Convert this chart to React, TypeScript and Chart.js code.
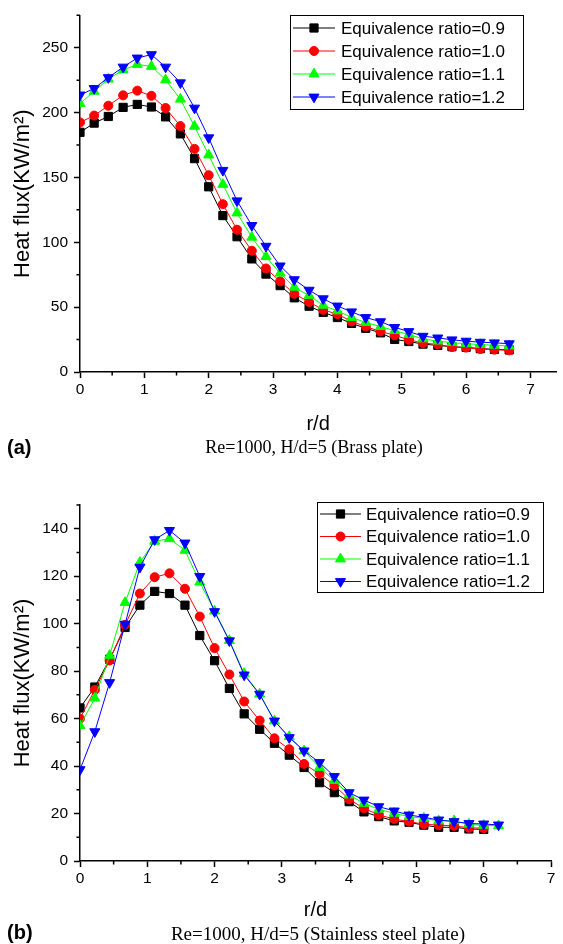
import React, { useEffect, useRef } from 'react';
import { Chart, registerables } from 'chart.js';

Chart.register(...registerables);

// ---------------- data ----------------
const seriesLabels = ['Equivalence ratio=0.9', 'Equivalence ratio=1.0', 'Equivalence ratio=1.1', 'Equivalence ratio=1.2'];
const seriesColors = ['#000000', '#ff0000', '#00ff00', '#0000ff'];
const seriesMarkers = ['rect', 'circle', 'triangle', 'triangle'];
const markerRotations = [0, 0, 0, 180];
const markerRadii = [5.8, 4.5, 5.8, 5.8];

const rdA = [0, 0.22, 0.44, 0.67, 0.89, 1.11, 1.33, 1.56, 1.78, 2.0, 2.22, 2.44, 2.67, 2.89, 3.11, 3.33, 3.56, 3.78, 4.0, 4.22, 4.44, 4.67, 4.89, 5.11, 5.33, 5.56, 5.78, 6.0, 6.22, 6.44, 6.67];
const brass09 = [184.8, 191.9, 197.0, 204.0, 206.3, 204.3, 196.7, 183.6, 164.5, 142.8, 120.6, 104.3, 87.2, 75.5, 66.6, 57.2, 50.7, 46.0, 42.0, 37.5, 33.7, 30.2, 25.1, 23.5, 21.5, 20.5, 19.5, 19.0, 18.0, 17.5, 17.0];
const brass10 = [192.4, 197.7, 205.3, 213.3, 216.9, 212.9, 203.5, 189.6, 172.0, 151.7, 129.4, 109.7, 93.5, 79.8, 69.9, 60.3, 54.0, 47.9, 44.6, 39.0, 35.0, 31.2, 28.3, 24.8, 22.3, 21.3, 19.2, 18.8, 17.7, 17.2, 16.7];
const brass11 = [207.0, 216.4, 225.8, 232.8, 237.1, 235.6, 225.2, 210.3, 189.4, 167.3, 144.6, 122.6, 103.9, 88.9, 76.2, 65.3, 59.0, 51.4, 47.1, 42.0, 38.2, 35.0, 31.9, 28.9, 25.5, 23.8, 22.6, 21.8, 21.2, 20.6, 20.0];
const brass12 = [213.6, 218.6, 227.0, 235.1, 242.1, 244.7, 235.1, 223.0, 203.5, 180.6, 155.5, 132.0, 113.0, 97.0, 81.8, 71.2, 63.1, 56.5, 50.9, 46.4, 42.0, 38.8, 34.4, 31.2, 27.6, 26.3, 24.8, 23.8, 23.0, 22.5, 21.8];

const rdB = [0, 0.22, 0.44, 0.67, 0.89, 1.11, 1.33, 1.56, 1.78, 2.0, 2.22, 2.44, 2.67, 2.89, 3.11, 3.33, 3.56, 3.78, 4.0, 4.22, 4.44, 4.67, 4.89, 5.11, 5.33, 5.56, 5.78, 6.0, 6.22];
const steel09 = [64.5, 73.3, 85.0, 98.4, 107.8, 113.6, 112.7, 107.8, 95.0, 84.4, 72.7, 62.0, 55.5, 49.6, 44.6, 39.4, 33.0, 28.8, 25.0, 20.7, 18.7, 16.9, 16.3, 15.1, 14.2, 14.2, 13.5, 13.3];
const steel10 = [60.0, 72.1, 84.5, 99.5, 112.7, 119.6, 121.2, 114.7, 103.0, 89.7, 78.6, 67.2, 59.2, 51.7, 47.1, 40.9, 36.7, 31.8, 26.0, 22.2, 19.4, 17.7, 16.6, 15.5, 15.1, 14.8, 14.0, 13.8];
const steel11 = [57.0, 68.6, 86.6, 108.9, 125.8, 134.7, 135.8, 130.9, 117.5, 105.3, 92.9, 79.0, 70.3, 59.0, 52.4, 46.4, 39.4, 33.9, 27.8, 24.3, 21.8, 20.1, 18.7, 18.0, 16.9, 16.9, 15.5, 15.0, 14.8];
const steel12 = [38.5, 54.5, 75.2, 99.8, 123.8, 135.4, 139.3, 134.0, 119.9, 105.1, 92.8, 78.4, 70.3, 59.0, 52.0, 46.4, 41.5, 35.6, 28.8, 25.7, 22.9, 21.1, 19.4, 18.4, 17.3, 16.6, 15.8, 15.6, 15.2];

const xTicks = [0, 1, 2, 3, 4, 5, 6, 7];
const xMinorTicks = [0.5, 1.5, 2.5, 3.5, 4.5, 5.5, 6.5];
const yTicksA = [0, 50, 100, 150, 200, 250];
const yMinorTicksA = [25, 75, 125, 175, 225, 275];
const yTicksB = [0, 20, 40, 60, 80, 100, 120, 140];
const yMinorTicksB = [10, 30, 50, 70, 90, 110, 130, 150];

const SANS = "Arial, 'Liberation Sans', sans-serif";
const SERIF = "'Times New Roman', 'Liberation Serif', serif";

// ---------------- helpers ----------------
function drawMarker(ctx: CanvasRenderingContext2D, style: string, x: number, y: number, r: number, color: string, rotation: number) {
  ctx.save();
  ctx.fillStyle = color;
  ctx.strokeStyle = color;
  ctx.lineWidth = 1;
  ctx.beginPath();
  if (style === 'rect') {
    const s = Math.SQRT1_2 * r;
    ctx.rect(x - s, y - s, 2 * s, 2 * s);
  } else if (style === 'circle') {
    ctx.arc(x, y, r, 0, Math.PI * 2);
  } else {
    let rad = (rotation * Math.PI) / 180;
    ctx.moveTo(x + Math.sin(rad) * r, y - Math.cos(rad) * r);
    rad += (2 * Math.PI) / 3;
    ctx.lineTo(x + Math.sin(rad) * r, y - Math.cos(rad) * r);
    rad += (2 * Math.PI) / 3;
    ctx.lineTo(x + Math.sin(rad) * r, y - Math.cos(rad) * r);
    ctx.closePath();
  }
  ctx.fill();
  ctx.stroke();
  ctx.restore();
}

const boxLegend = {
  id: 'boxLegend',
  afterDraw(chart: any, _args: any, opts: any) {
    const { ctx } = chart;
    ctx.save();
    ctx.lineWidth = 1;
    ctx.strokeStyle = '#000';
    ctx.strokeRect(opts.left + 0.5, opts.top + 0.5, opts.width, opts.height);
    chart.data.datasets.forEach((ds: any, i: number) => {
      const y = opts.top + opts.firstRow + i * opts.rowH;
      ctx.strokeStyle = ds.borderColor;
      ctx.lineWidth = 1;
      ctx.beginPath();
      ctx.moveTo(opts.left + opts.sampleL, y);
      ctx.lineTo(opts.left + opts.sampleR, y);
      ctx.stroke();
      drawMarker(ctx, ds.pointStyle, opts.left + (opts.sampleL + opts.sampleR) / 2, y, ds.pointRadius, ds.pointBackgroundColor, ds.pointRotation);
      ctx.fillStyle = '#000';
      ctx.font = `17px ${SANS}`;
      ctx.textAlign = 'left';
      ctx.textBaseline = 'middle';
      ctx.fillText(ds.label, opts.left + opts.textX, y + 1);
    });
    ctx.restore();
  },
};

const minorTicks = {
  id: 'minorTicks',
  afterDraw(chart: any, _args: any, opts: any) {
    const { ctx } = chart;
    const xs = chart.scales.x;
    const ys = chart.scales.y;
    ctx.save();
    ctx.strokeStyle = '#000';
    ctx.lineWidth = 1.5;
    ctx.beginPath();
    opts.x.forEach((v: number) => {
      const px = xs.getPixelForValue(v);
      ctx.moveTo(px, ys.bottom);
      ctx.lineTo(px, ys.bottom + 3.5);
    });
    opts.y.forEach((v: number) => {
      const py = ys.getPixelForValue(v);
      ctx.moveTo(xs.left, py);
      ctx.lineTo(xs.left - 3.5, py);
    });
    ctx.stroke();
    ctx.restore();
  },
};

function makeDatasets(xs: number[], series: number[][]) {
  return series.map((vals, i) => ({
    label: seriesLabels[i],
    data: vals.map((v, j) => ({ x: xs[j], y: v })),
    borderColor: seriesColors[i],
    backgroundColor: seriesColors[i],
    pointBackgroundColor: seriesColors[i],
    pointBorderColor: seriesColors[i],
    pointBorderWidth: 1,
    pointStyle: seriesMarkers[i],
    pointRotation: markerRotations[i],
    pointRadius: markerRadii[i],
    borderWidth: 1,
    tension: 0,
    fill: false,
    order: 3 - i,
  }));
}

function makeConfig(p: any) {
  const axisCommon = {
    grid: { display: true, drawOnChartArea: false, drawTicks: true, tickLength: 6, tickColor: '#000', tickWidth: 1.5 },
    border: { display: true, color: '#000', width: 1.5 },
  };
  return {
    type: 'line',
    data: { datasets: makeDatasets(p.xs, p.series) },
    options: {
      responsive: false,
      animation: false,
      devicePixelRatio: 1,
      layout: { padding: { left: 0, top: p.padTop, right: p.padRight, bottom: 0 } },
      plugins: {
        legend: { display: false },
        tooltip: { enabled: false },
        boxLegend: p.legend,
        minorTicks: { x: xMinorTicks, y: p.yMinor },
      },
      scales: {
        x: {
          type: 'linear',
          min: 0,
          max: p.xMax,
          afterBuildTicks: (s: any) => { s.ticks = xTicks.map((v) => ({ value: v })); },
          afterFit: (s: any) => { s.height = p.xAxisH; },
          ticks: { color: '#000', font: { size: 15.5, family: SANS }, padding: 2, maxRotation: 0, autoSkip: false },
          title: { display: true, text: 'r/d', color: '#000', font: { size: 20, family: SANS }, padding: { top: 0, bottom: p.xTitlePad } },
          ...axisCommon,
        },
        y: {
          type: 'linear',
          min: 0,
          max: p.yMax,
          afterBuildTicks: (s: any) => { s.ticks = p.yTicks.map((v: number) => ({ value: v })); },
          afterFit: (s: any) => { s.width = 80; },
          ticks: { color: '#000', font: { size: 15.5, family: SANS }, padding: 6 },
          title: { display: true, text: 'Heat flux(KW/m²)', color: '#000', font: { size: 22, family: SANS }, padding: { top: 10, bottom: 0 } },
          ...axisCommon,
        },
      },
    },
    plugins: [boxLegend, minorTicks],
  };
}

function ChartCanvas({ config, width, height }: { config: any; width: number; height: number }) {
  const ref = useRef<HTMLCanvasElement | null>(null);
  useEffect(() => {
    if (!ref.current) return;
    const chart = new Chart(ref.current, config);
    return () => chart.destroy();
  }, []);
  return <canvas ref={ref} width={width} height={height} style={{ display: 'block', width, height }} />;
}

const configA = makeConfig({
  xs: rdA,
  series: [brass09, brass10, brass11, brass12],
  xMax: 7.4,
  yMax: 275,
  yTicks: yTicksA,
  yMinor: yMinorTicksA,
  padTop: 9,
  padRight: 3,
  xAxisH: 68,
  xTitlePad: 4,
  legend: { left: 290, top: 15, width: 233, height: 94, firstRow: 13, rowH: 23, sampleL: 3, sampleR: 45, textX: 51 },
});

const configB = makeConfig({
  xs: rdB,
  series: [steel09, steel10, steel11, steel12],
  xMax: 7,
  yMax: 150,
  yTicks: yTicksB,
  yMinor: yMinorTicksB,
  padTop: 35,
  padRight: 12,
  xAxisH: 69,
  xTitlePad: 8,
  legend: { left: 317, top: 32, width: 226, height: 90, firstRow: 12, rowH: 22.5, sampleL: 3, sampleR: 44, textX: 49 },
});

const captionStyle: React.CSSProperties = {
  position: 'absolute',
  transform: 'translate(-50%, -50%)',
  fontFamily: SERIF,
  whiteSpace: 'nowrap',
  color: '#000',
  lineHeight: 1,
};

const panelStyle: React.CSSProperties = {
  position: 'absolute',
  transform: 'translateY(-50%)',
  fontFamily: SANS,
  fontWeight: 'bold',
  fontSize: 20,
  color: '#000',
  lineHeight: 1,
};

export default function App() {
  return (
    <div style={{ position: 'absolute', left: 0, top: 0, width: 563, height: 944, background: '#fff', overflow: 'hidden' }}>
      <div style={{ position: 'absolute', left: 0, top: 0 }}>
        <ChartCanvas config={configA} width={563} height={440} />
      </div>
      <div style={{ ...panelStyle, left: 7, top: 447 }}>(a)</div>
      <div style={{ ...captionStyle, left: 314, top: 447, fontSize: 18 }}>Re=1000, H/d=5 (Brass plate)</div>

      <div style={{ position: 'absolute', left: 0, top: 470 }}>
        <ChartCanvas config={configB} width={563} height={460} />
      </div>
      <div style={{ ...panelStyle, left: 7, top: 932 }}>(b)</div>
      <div style={{ ...captionStyle, left: 318, top: 933, fontSize: 19 }}>Re=1000, H/d=5 (Stainless steel plate)</div>
    </div>
  );
}
